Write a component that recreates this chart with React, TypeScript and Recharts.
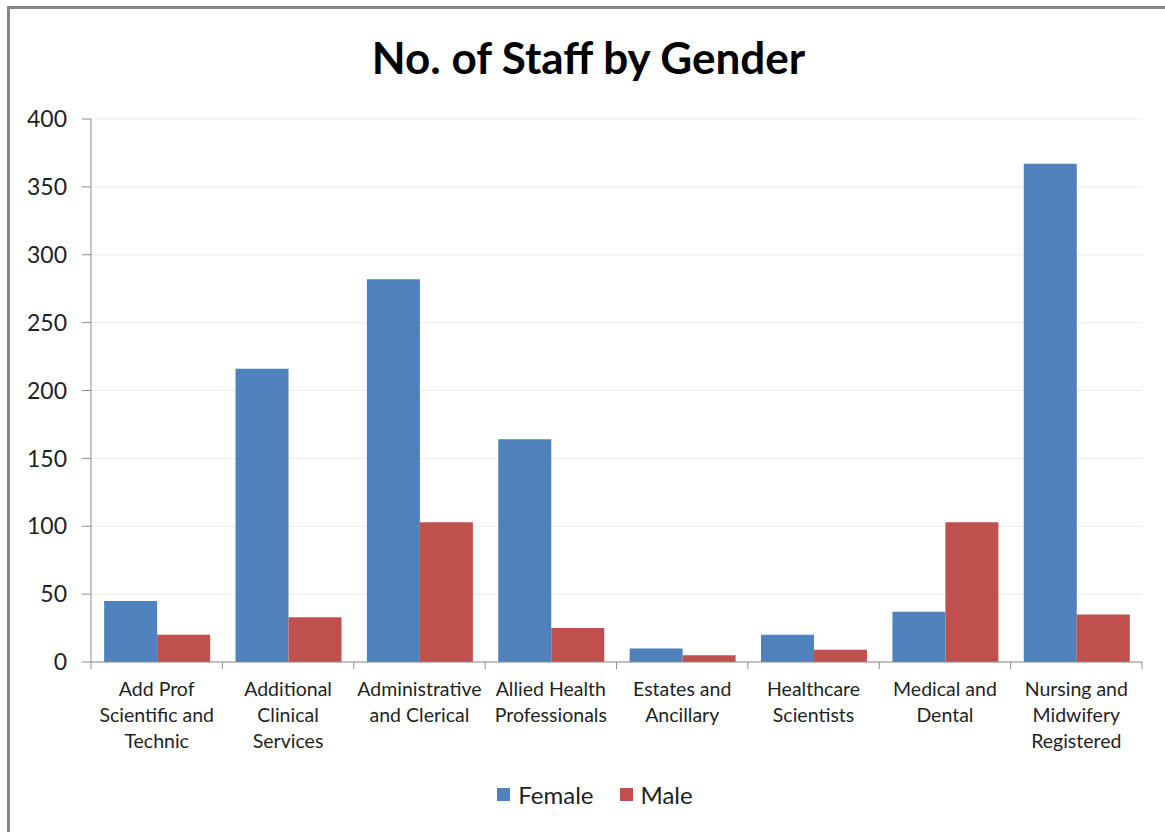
import { Bar, BarChart, CartesianGrid, Legend, XAxis, YAxis } from "recharts"

const categories = [
  "Add Prof\nScientific and\nTechnic",
  "Additional\nClinical\nServices",
  "Administrative\nand Clerical",
  "Allied Health\nProfessionals",
  "Estates and\nAncillary",
  "Healthcare\nScientists",
  "Medical and\nDental",
  "Nursing and\nMidwifery\nRegistered",
]
const female = [45, 216, 282, 164, 10, 20, 37, 367]
const male = [20, 33, 103, 25, 5, 9, 103, 35]
const yTicks = [0, 50, 100, 150, 200, 250, 300, 350, 400]

const data = categories.map((name, i) => ({ name, Female: female[i], Male: male[i] }))

const W = 1165
const H = 832
const PLOT_LEFT = 91
const PLOT_RIGHT = 1142
const PLOT_TOP = 119
const PLOT_BOTTOM = 662
const BAND = (PLOT_RIGHT - PLOT_LEFT) / categories.length
const FONT = "Lato, 'Noto Sans', sans-serif"
const AXIS = "#8c8c8c"
const TEXT = "#1f1f1f"

function CategoryTick({ x, y, payload, index }: any) {
  const lines = String(payload.value).split("\n")
  return (
    <g>
      <line x1={x - BAND / 2} x2={x - BAND / 2} y1={y} y2={y + 7} stroke={AXIS} />
      {index === categories.length - 1 && (
        <line x1={x + BAND / 2} x2={x + BAND / 2} y1={y} y2={y + 7} stroke={AXIS} />
      )}
      <text x={x} y={y + 34} textAnchor="middle" fontSize={19.5} fontFamily={FONT} fill={TEXT}>
        {lines.map((line, i) => (
          <tspan key={i} x={x} dy={i === 0 ? 0 : 26}>
            {line}
          </tspan>
        ))}
      </text>
    </g>
  )
}

function LegendContent({ payload }: any) {
  return (
    <div style={{ display: "flex", justifyContent: "center", gap: 26, fontFamily: FONT, fontSize: 24, color: TEXT }}>
      {(payload || []).map((item: any) => (
        <div key={item.value} style={{ display: "flex", alignItems: "center", gap: 8 }}>
          <span style={{ display: "inline-block", width: 13, height: 13, background: item.color }} />
          <span>{item.value}</span>
        </div>
      ))}
    </div>
  )
}

export default function App() {
  return (
    <div style={{ position: "fixed", left: 0, top: 0, width: W, height: H, background: "#fff" }}>
      <div
        style={{
          position: "fixed",
          left: 7,
          top: 6,
          right: 0,
          bottom: 0,
          borderLeft: "3px solid #878787",
          borderTop: "3px solid #878787",
        }}
      />
      <div
        style={{
          position: "absolute",
          left: 0,
          width: W + 12,
          top: 31,
          textAlign: "center",
          fontFamily: FONT,
          fontWeight: 700,
          fontSize: 44,
          color: "#000",
        }}
      >
        No. of Staff by Gender
      </div>
      <div style={{ position: "absolute", left: 0, top: 0 }}>
        <BarChart
          width={W}
          height={H}
          data={data}
          barCategoryGap="10%"
          barGap={0}
          margin={{ top: PLOT_TOP, right: W - PLOT_RIGHT, bottom: H - PLOT_BOTTOM - 60, left: 0 }}
        >
          <CartesianGrid vertical={false} stroke="#ececec" />
          <XAxis
            dataKey="name"
            height={60}
            interval={0}
            tickSize={0}
            tickMargin={0}
            tickLine={false}
            stroke={AXIS}
            tick={<CategoryTick />}
          />
          <YAxis
            width={PLOT_LEFT}
            domain={[0, 400]}
            ticks={yTicks}
            interval={0}
            tickSize={9}
            tickMargin={15}
            stroke={AXIS}
            tick={{ fontSize: 23, fontFamily: FONT, fill: TEXT }}
          />
          <Legend
            verticalAlign="middle"
            align="center"
            wrapperStyle={{ top: 780, left: 0, width: W + 25 }}
            content={<LegendContent />}
          />
          <Bar dataKey="Female" fill="#4f81bd" isAnimationActive={false} />
          <Bar dataKey="Male" fill="#c0504d" isAnimationActive={false} />
        </BarChart>
      </div>
    </div>
  )
}
